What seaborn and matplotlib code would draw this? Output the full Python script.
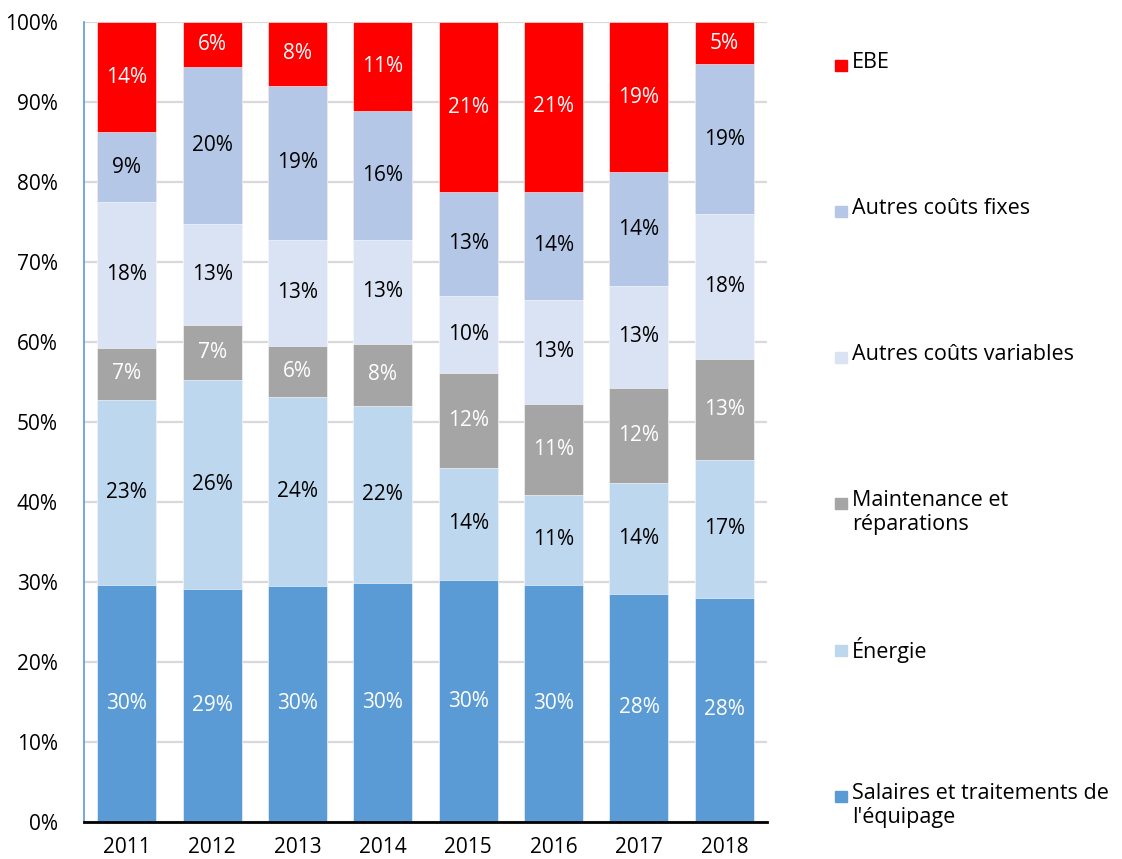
import matplotlib
matplotlib.use("Agg")
import matplotlib.pyplot as plt
from matplotlib.patches import Rectangle
import pandas as pd
import seaborn as sns

years = ["2011", "2012", "2013", "2014", "2015", "2016", "2017", "2018"]

# share of each cost item (% of total), bottom to top
salaires = [29.6, 29.1, 29.55, 29.9, 30.2, 29.6, 28.5, 28.0]
energie = [23.15, 26.15, 23.6, 22.1, 14.1, 11.3, 13.9, 17.25]
maintenance = [6.55, 6.85, 6.3, 7.8, 11.8, 11.4, 11.9, 12.6]
autres_var = [18.15, 12.65, 13.35, 12.95, 9.7, 13.0, 12.7, 18.15]
autres_fixes = [8.75, 19.65, 19.2, 16.15, 12.9, 13.5, 14.2, 18.7]
ebe = [13.8, 5.6, 8.0, 11.1, 21.3, 21.2, 18.8, 5.3]

series = ["Salaires et traitements de\nl'équipage", "Énergie", "Maintenance et\nréparations",
          "Autres coûts variables", "Autres coûts fixes", "EBE"]
values = [salaires, energie, maintenance, autres_var, autres_fixes, ebe]
colors = ["#5B9BD5", "#BDD7EE", "#A5A5A5", "#DAE3F3", "#B4C7E7", "#FF0000"]
text_colors = ["white", "black", "white", "black", "black", "white"]

sns.set_theme(style="white")
plt.rcParams["font.family"] = ["Open Sans", "DejaVu Sans"]

fig = plt.figure(figsize=(11.22, 8.59), dpi=100)
ax = fig.add_axes([0.0749, 0.0431, 0.6087, 0.9313])

df = pd.DataFrame({"year": years})
cum = [0.0] * len(years)
tops = []
for v in values:
    cum = [c + x for c, x in zip(cum, v)]
    tops.append(cum)

# draw cumulative heights from the top layer down so lower layers sit in front
for i in range(len(values) - 1, -1, -1):
    df["h"] = tops[i]
    sns.barplot(data=df, x="year", y="h", color=colors[i], saturation=1, width=0.69,
                edgecolor="white", linewidth=0.4, ax=ax, zorder=2)

for i, v in enumerate(values):
    for j, val in enumerate(v):
        ax.text(j, tops[i][j] - val / 2, f"{round(val):d}%", ha="center", va="center",
                fontsize=15, color=text_colors[i], zorder=5)

ax.set_ylim(0, 100)
ax.set_xlim(-0.5, 7.5)
ax.set_yticks(range(0, 101, 10))
ax.set_yticklabels([f"{t}%" for t in range(0, 101, 10)], fontsize=15)
ax.tick_params(axis="x", labelsize=15, pad=5, colors="black")
ax.tick_params(axis="y", pad=19, length=0, colors="black")
ax.set_xlabel("")
ax.set_ylabel("")
ax.yaxis.grid(True, color="#D9D9D9", linewidth=1.6, zorder=0)
ax.set_axisbelow(True)
sns.despine(ax=ax, top=True, right=True)
ax.spines["left"].set_color("#5B9BD5")
ax.spines["left"].set_linewidth(1.2)
ax.spines["bottom"].set_color("black")
ax.spines["bottom"].set_linewidth(2)

# legend, top entry first
legend_y = [65, 211, 357, 503, 650, 796]
for k, y in enumerate(legend_y):
    i = len(series) - 1 - k
    fy = 1 - y / 859
    fig.patches.append(Rectangle((835 / 1122, fy - 6 / 859), 12 / 1122, 11 / 859,
                                 transform=fig.transFigure, color=colors[i]))
    fig.text(852 / 1122, fy + 13 / 859, series[i], ha="left", va="top",
             fontsize=15.5, linespacing=1.2, color="black")

fig.savefig("out.png", dpi=100)
